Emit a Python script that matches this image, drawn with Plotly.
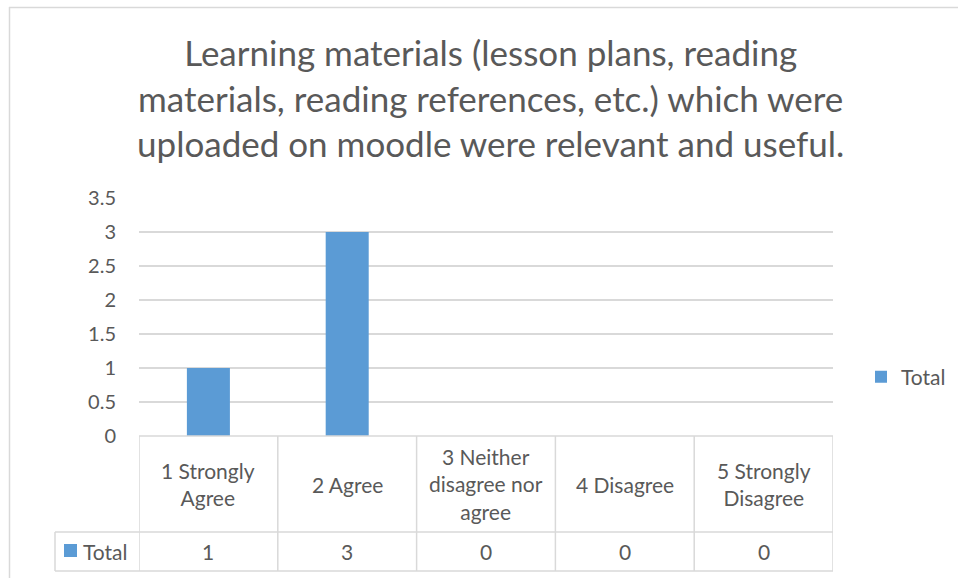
import plotly.graph_objects as go

categories = ["1 Strongly Agree", "2 Agree", "3 Neither disagree nor agree", "4 Disagree", "5 Strongly Disagree"]
category_labels = ["1 Strongly<br>Agree", "2 Agree", "3 Neither<br>disagree nor<br>agree", "4 Disagree", "5 Strongly<br>Disagree"]
series_name = "Total"
values = [1, 3, 0, 0, 0]
y_ticks = [0, 0.5, 1, 1.5, 2, 2.5, 3, 3.5]
y_tick_text = ["0", "0.5", "1", "1.5", "2", "2.5", "3", "3.5"]
title_text = ("Learning materials (lesson plans, reading<br>materials, reading references, etc.) which were"
              "<br>uploaded on moodle were relevant and useful.")

TEXT = "#595959"
GRID = "#d9d9d9"
BAR = "#5b9bd5"
FONT = "Lato"
FS = 21

W, H = 958, 578
L, R, T, B = 139, 125, 198, 142
PH = H - T - B
PW = W - L - R

def py(pix):  # pixel y -> paper y
    return (H - B - pix) / PH

def px(pix):
    return (pix - L) / PW

fig = go.Figure()
fig.add_trace(go.Bar(x=categories, y=values, name=series_name, marker_color=BAR,
                     marker_line_width=0, width=0.31, showlegend=True))

shapes = []
n = len(categories)
for i in range(n + 1):
    shapes.append(dict(type="line", xref="x", yref="paper", x0=i - 0.5, x1=i - 0.5,
                       y0=py(436), y1=py(571), line=dict(color=GRID, width=1.5)))
shapes.append(dict(type="line", xref="paper", yref="paper", x0=0, x1=1,
                   y0=py(436), y1=py(436), line=dict(color=GRID, width=1.5)))
shapes.append(dict(type="line", xref="paper", yref="paper", x0=px(55), x1=px(55),
                   y0=py(532), y1=py(571), line=dict(color=GRID, width=1.5)))
for yy in (532, 571):
    shapes.append(dict(type="line", xref="paper", yref="paper", x0=px(55), x1=1,
                       y0=py(yy), y1=py(yy), line=dict(color=GRID, width=1.5)))
shapes.append(dict(type="rect", xref="paper", yref="paper", x0=px(64), x1=px(77),
                   y0=py(557), y1=py(544), fillcolor=BAR, line=dict(width=0)))
shapes.append(dict(type="line", xref="paper", yref="paper", x0=px(9), x1=px(960),
                   y0=py(7.5), y1=py(7.5), line=dict(color=GRID, width=1.5)))
shapes.append(dict(type="line", xref="paper", yref="paper", x0=px(9.5), x1=px(9.5),
                   y0=py(7), y1=py(580), line=dict(color=GRID, width=1.5)))

annotations = []
for i, (lab, v) in enumerate(zip(category_labels, values)):
    annotations.append(dict(x=i, xref="x", y=py(484), yref="paper", text=lab, showarrow=False,
                            xanchor="center", yanchor="middle",
                            font=dict(family=FONT, size=FS, color=TEXT)))
    annotations.append(dict(x=i, xref="x", y=py(551), yref="paper", text=str(v), showarrow=False,
                            xanchor="center", yanchor="middle",
                            font=dict(family=FONT, size=FS, color=TEXT)))
annotations.append(dict(x=px(81), xref="paper", y=py(551), yref="paper", text=series_name,
                        showarrow=False, xanchor="left", yanchor="middle",
                        font=dict(family=FONT, size=FS, color=TEXT)))
annotations.append(dict(x=px(490), xref="paper", y=py(98), yref="paper", text=title_text,
                        showarrow=False, xanchor="center", yanchor="middle", align="center",
                        font=dict(family=FONT, size=35, color=TEXT)))

fig.update_layout(
    width=W, height=H,
    margin=dict(l=L, r=R, t=T, b=B, autoexpand=False),
    paper_bgcolor="white", plot_bgcolor="white",
    font=dict(family=FONT, color=TEXT, size=FS),
    bargap=0.69,
    shapes=shapes,
    annotations=annotations,
    legend=dict(x=px(861), y=py(377), xanchor="left", yanchor="middle",
                font=dict(family=FONT, size=FS, color=TEXT), itemwidth=30,
                bgcolor="rgba(0,0,0,0)"),
    showlegend=True,
)
fig.update_xaxes(showticklabels=False, showgrid=False, showline=False, zeroline=False,
                 range=[-0.5, n - 0.5], fixedrange=True)
fig.update_yaxes(range=[0, 3.5], tickvals=y_ticks, ticktext=y_tick_text, showgrid=True,
                 gridcolor=GRID, gridwidth=1.5, zeroline=False, showline=False,
                 ticks="", ticklabelstandoff=22, tickfont=dict(family=FONT, size=20, color=TEXT))

fig.write_html("out.html", config={"displayModeBar": False},
               post_script="document.body.style.margin='0';")
